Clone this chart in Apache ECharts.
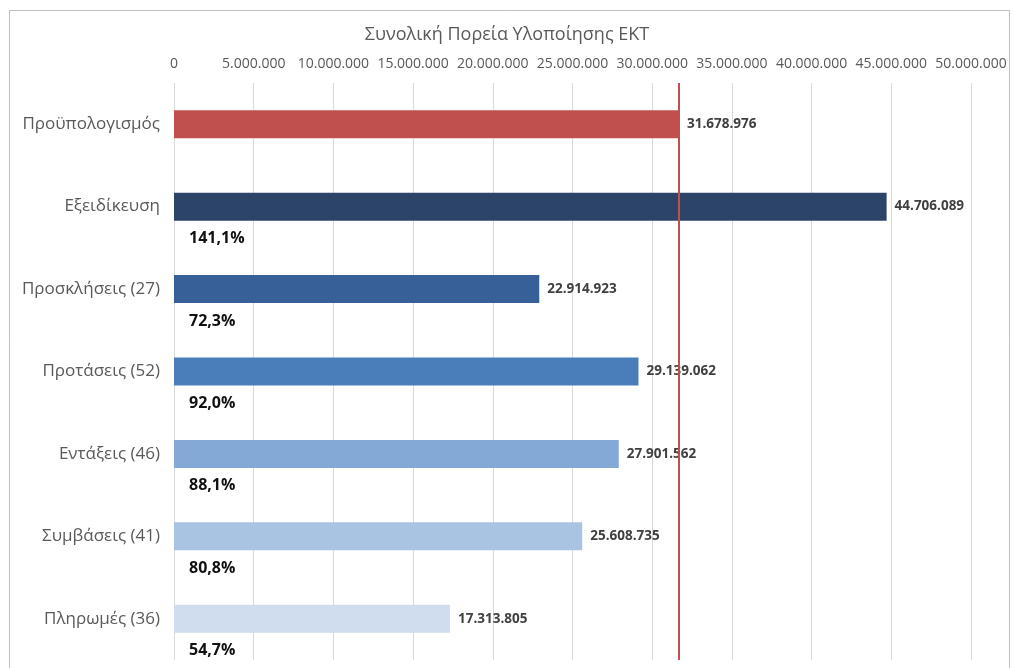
<!DOCTYPE html>
<html>
<head>
<meta charset="utf-8">
<style>
  html, body { margin: 0; padding: 0; background: #fff; }
  #main { width: 1014px; height: 668px; }
</style>
<script src="https://cdn.jsdelivr.net/npm/echarts@6/dist/echarts.min.js"></script>
</head>
<body>
<div id="main"></div>
<script>
var categories = ['Προϋπολογισμός', 'Εξειδίκευση', 'Προσκλήσεις (27)', 'Προτάσεις (52)', 'Εντάξεις (46)', 'Συμβάσεις (41)', 'Πληρωμές (36)'];
var amounts = [31678976, 44706089, 22914923, 29139062, 27901562, 25608735, 17313805];
var percents = ['', '141,1%', '72,3%', '92,0%', '88,1%', '80,8%', '54,7%'];
var barColors = ['#C0504D', '#2C4468', '#376099', '#4A7EBB', '#85A9D6', '#A9C3E3', '#CFDDEE'];
var budget = 31678976;

function fmt(v) {
  return String(Math.round(v)).replace(/\B(?=(\d{3})+(?!\d))/g, '.');
}

var chart = echarts.init(document.getElementById('main'));

var option = {
  animation: false,
  textStyle: { fontFamily: 'Open Sans' },
  title: {
    text: 'Συνολική Πορεία Υλοποίησης ΕΚΤ',
    left: 'center',
    top: 21,
    textStyle: { fontSize: 18, fontWeight: 'normal', color: '#595959', fontFamily: 'Open Sans' }
  },
  graphic: [{
    type: 'rect',
    shape: { x: 9.5, y: 10.5, width: 1000, height: 680 },
    style: { fill: 'none', stroke: '#BFBFBF', lineWidth: 1 },
    silent: true
  }],
  grid: { left: 174, right: 43, top: 83, bottom: 8 },
  xAxis: {
    type: 'value',
    position: 'top',
    min: 0,
    max: 50000000,
    interval: 5000000,
    axisLine: { show: false },
    axisTick: { show: false },
    axisLabel: {
      margin: 12,
      color: '#595959',
      fontSize: 14,
      formatter: function (v) { return fmt(v); }
    },
    splitLine: { lineStyle: { color: '#D9D9D9', width: 1 } }
  },
  yAxis: {
    type: 'category',
    inverse: true,
    data: categories,
    axisLine: { show: false },
    axisTick: { show: false },
    axisLabel: { color: '#595959', fontSize: 17, margin: 14 }
  },
  series: [
    {
      type: 'bar',
      barWidth: 28,
      data: amounts.map(function (v, i) {
        return { value: v, itemStyle: { color: barColors[i] } };
      }),
      label: {
        show: true,
        position: 'right',
        distance: 8,
        color: '#404040',
        fontSize: 13.5,
        fontWeight: 'bold',
        formatter: function (p) { return fmt(p.value); }
      },
      markLine: {
        symbol: 'none',
        silent: true,
        label: { show: false },
        lineStyle: { color: '#C0504D', width: 2, type: 'solid' },
        data: [{ xAxis: budget }]
      },
      z: 2
    },
    {
      type: 'bar',
      barWidth: 28,
      barGap: '-100%',
      data: amounts,
      itemStyle: { color: 'rgba(0,0,0,0)' },
      label: {
        show: true,
        position: 'insideLeft',
        offset: [10, 32],
        color: '#111',
        fontSize: 16,
        fontWeight: 'bold',
        formatter: function (p) { return percents[p.dataIndex]; }
      },
      z: 3
    }
  ]
};

chart.setOption(option);
</script>
</body>
</html>
